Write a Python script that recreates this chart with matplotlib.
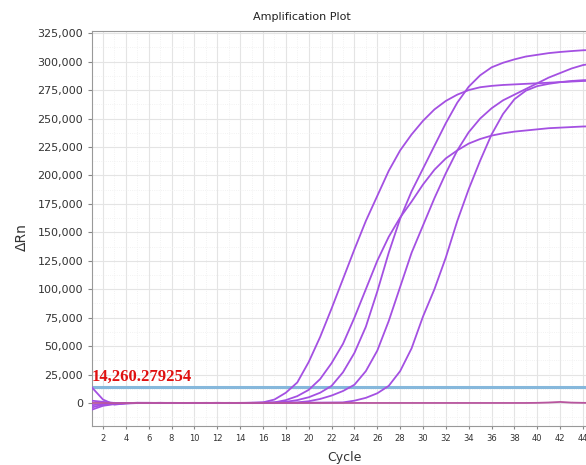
import matplotlib
matplotlib.use("Agg")
import matplotlib.pyplot as plt
from matplotlib.ticker import FuncFormatter, MultipleLocator

# cycle numbers and delta Rn per well
cycles = list(range(1, 46))

well_a = [14000, 3000, -1500, -300, 200, 100, 0, -100, 0, 100, 0, -100, 0, 100, 200,
          500, 3000, 9000, 18000, 36000, 58000, 83000, 109000, 135000, 160000, 182000,
          204000, 222000, 236000, 248000, 258000, 265500, 271000, 275000, 277500, 278700,
          279500, 280000, 280500, 281000, 281500, 282000, 282500, 283000, 283200]
well_b = [2000, 1000, 0, -200, -100, 0, 100, 0, -100, 0, 0, 100, 0, 0, 100, 200, 400,
          1000, 2500, 5000, 9000, 15000, 27000, 44000, 67000, 98000, 132000, 162000,
          186000, 206000, 226000, 246000, 264000, 278000, 288000, 295000, 299000, 302000,
          304500, 306000, 307500, 308500, 309300, 310000, 310300]
well_c = [-2000, -1000, -500, -200, 0, 100, 0, -100, 0, 0, 100, 0, -100, 0, 0, 100, 200,
          300, 500, 1500, 3500, 6500, 10500, 16000, 28000, 46000, 72000, 102000, 132000,
          156000, 180000, 202000, 222000, 238000, 250000, 259000, 266000, 271000, 276000,
          281000, 286000, 290000, 294000, 297000, 298500]
well_d = [-4000, -1500, -800, -300, -100, 0, 100, 0, -100, 0, 0, 100, 0, 0, 100, 200,
          500, 2500, 6000, 11500, 21000, 35000, 52000, 75000, 100000, 125000, 146000,
          163000, 177000, 192000, 205000, 215000, 222000, 228000, 232000, 235000, 237000,
          238500, 239500, 240500, 241500, 242000, 242500, 243000, 243200]
well_e = [-6000, -2500, -1000, -300, -100, 0, 0, 100, 0, -100, 0, 0, 100, 0, 0, 100, 100,
          200, 200, 300, 300, 400, 500, 2000, 4500, 8500, 15000, 28000, 48000, 76000,
          100000, 128000, 160000, 188000, 213000, 236000, 254000, 267000, 274500, 278500,
          280500, 282000, 283000, 283700, 284000]
ntc = [0, 0, -200, -100, 0, 0, 0, 0, 0, 0, 0, 0, 0, 0, 0, 0, 0, 0, 0, 0, 0, 0, 0, 0, 0,
       0, 0, 0, 0, 0, 0, 0, 0, 0, 0, 0, 0, 0, 0, 100, 400, 900, 300, 100, 0]

threshold = 14260.279254

fig = plt.figure(figsize=(5.86, 4.65), dpi=100)
ax = fig.add_axes([0.157, 0.084, 0.843, 0.849])

purple = "#a450e2"
for w in [well_a, well_b, well_c, well_d, well_e]:
    ax.plot(cycles, w, color=purple, lw=1.3, zorder=3)
ax.plot(cycles, ntc, color="#b8559e", lw=1.3, zorder=3)

# threshold line + label
ax.axhline(threshold, color="#86b8dc", lw=2.2, zorder=2)
ax.text(1.05, threshold + 1500, "14,260.279254", color="#e01010", fontsize=12,
        fontweight="bold", family="Liberation Serif", va="bottom", ha="left", zorder=4)

ax.set_xlim(1.04, 44.26)
ax.set_ylim(-20200, 326800)
ax.xaxis.set_major_locator(MultipleLocator(2))
ax.xaxis.set_minor_locator(MultipleLocator(1))
ax.yaxis.set_major_locator(MultipleLocator(25000))
ax.yaxis.set_minor_locator(MultipleLocator(12500))
ax.yaxis.set_major_formatter(FuncFormatter(lambda v, p: f"{int(v):,}" if v >= 0 else ""))

ax.grid(which="major", color="#e4e4e4", lw=0.8)
ax.grid(which="minor", color="#eeeeee", lw=0.6, ls=":")
ax.set_axisbelow(True)

ax.tick_params(axis="y", which="major", labelsize=8, length=3, color="#888888",
               labelcolor="#333333")
ax.tick_params(axis="x", which="major", labelsize=6, length=2, color="#888888",
               labelcolor="#333333")
ax.tick_params(which="minor", length=0)
for s in ["left", "bottom", "top"]:
    ax.spines[s].set_color("#999999")
ax.spines["right"].set_visible(False)

fig.text(0.515, 0.963, "Amplification Plot", fontsize=8, ha="center", va="center",
         color="#222222")
fig.text(0.587, 0.017, "Cycle", fontsize=9, ha="center", va="center", color="#333333")
fig.text(0.038, 0.49, "\u0394Rn", fontsize=10, rotation=90, ha="center", va="center",
         color="#333333")

fig.savefig("out.png", dpi=100)
